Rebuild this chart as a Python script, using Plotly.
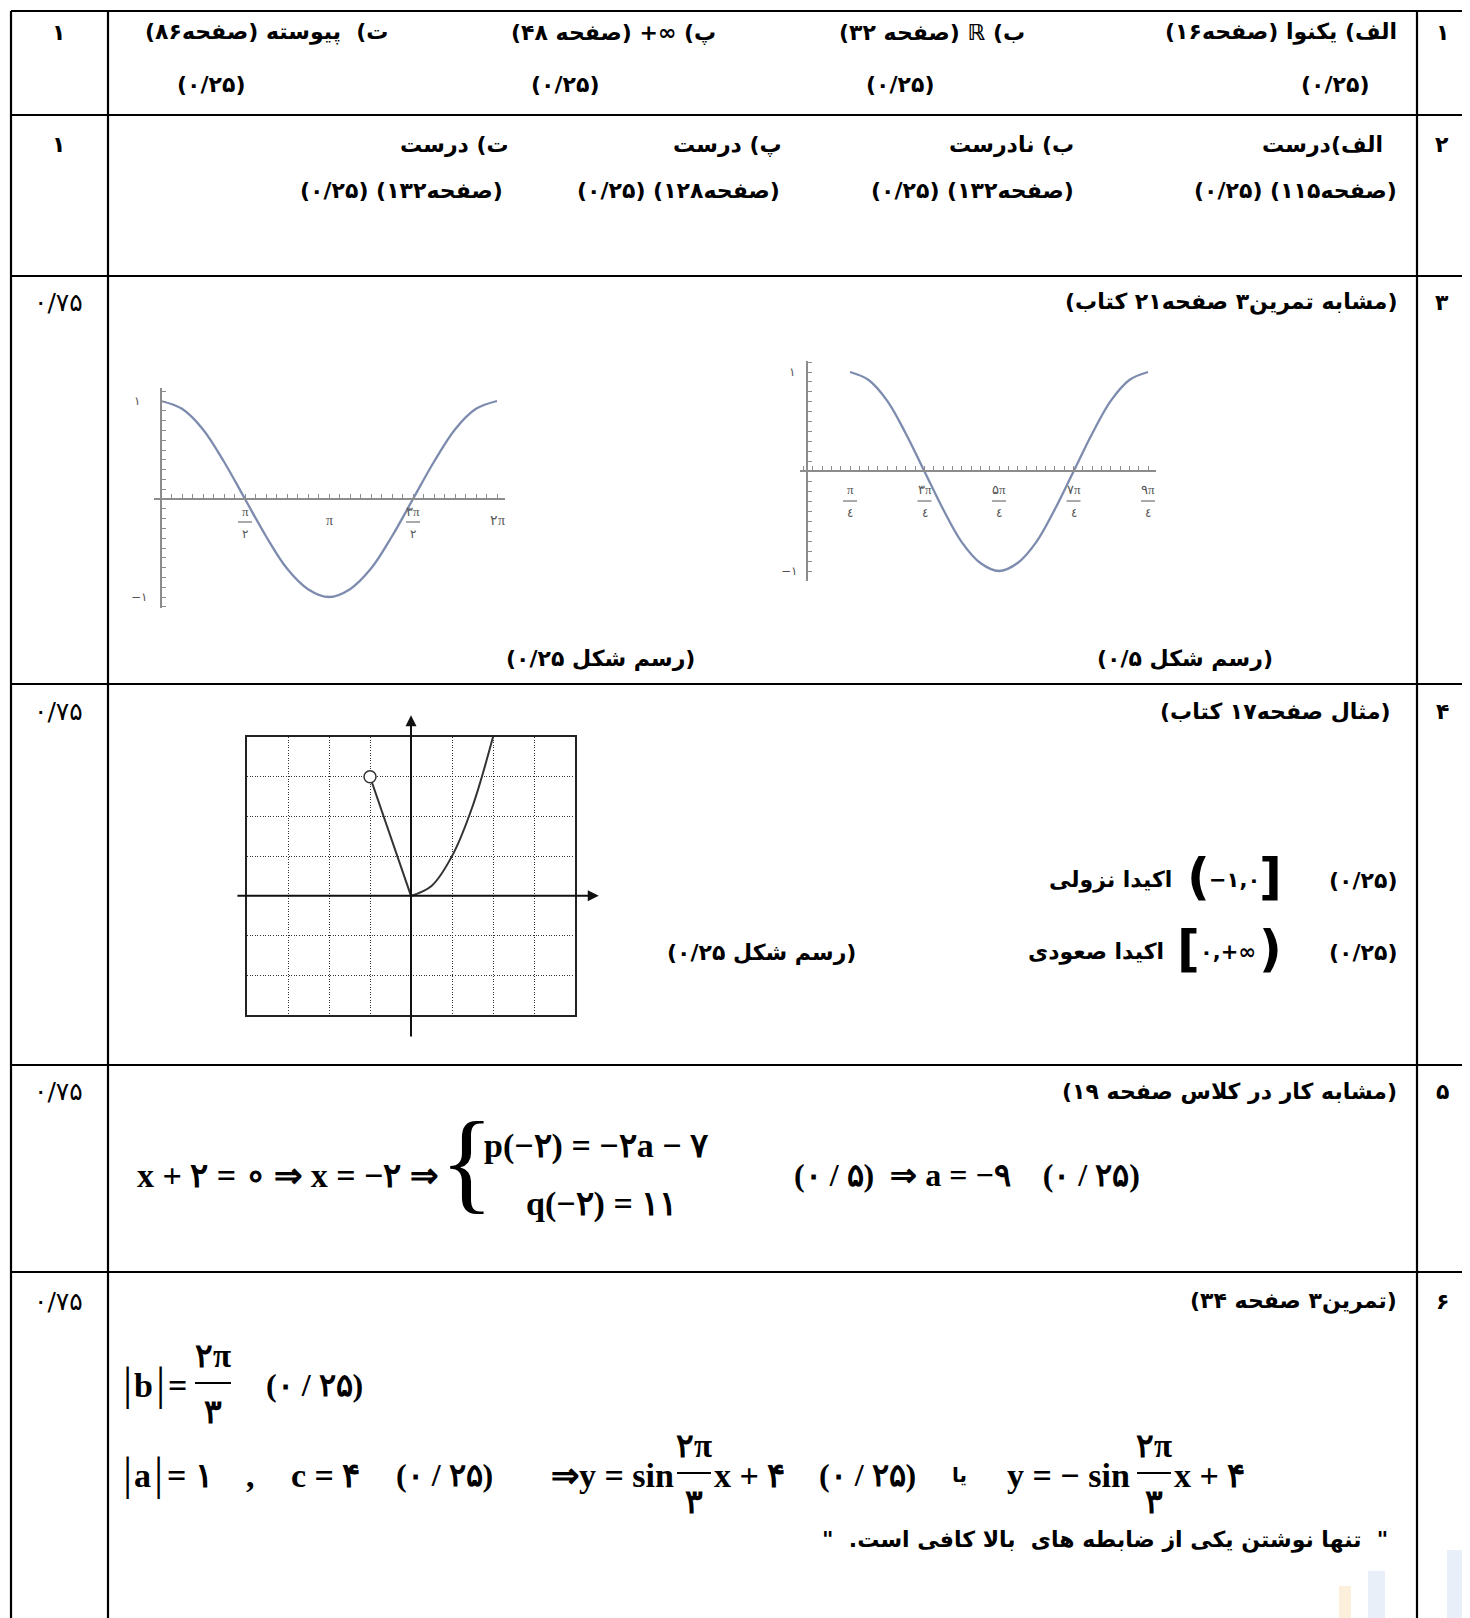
import plotly.graph_objects as go

W, H = 1470, 1618
FA = "DejaVu Sans"
MATH = "Liberation Serif"

# ---- data -------------------------------------------------------------
# row 3, left panel: y = cos x on [0, 2π]   (x given in units of π)
left_x = [0, 0.125, 0.25, 0.375, 0.5, 0.625, 0.75, 0.875, 1,
          1.125, 1.25, 1.375, 1.5, 1.625, 1.75, 1.875, 2]
left_y = [1, 0.92, 0.71, 0.38, 0, -0.38, -0.71, -0.92, -1,
          -0.92, -0.71, -0.38, 0, 0.38, 0.71, 0.92, 1]
left_ticks = [0.5, 1, 1.5, 2]
left_num = ["π", "π", "۳π", "۲π"]
left_den = ["۲", "", "۲", ""]

# row 3, right panel: shifted cosine on [π/4, 9π/4]
right_x = [0.25, 0.375, 0.5, 0.625, 0.75, 0.875, 1, 1.125, 1.25,
           1.375, 1.5, 1.625, 1.75, 1.875, 2, 2.125, 2.25]
right_y = [1, 0.92, 0.71, 0.38, 0, -0.38, -0.71, -0.92, -1,
           -0.92, -0.71, -0.38, 0, 0.38, 0.71, 0.92, 1]
right_ticks = [0.25, 0.75, 1.25, 1.75, 2.25]
right_num = ["π", "۳π", "۵π", "۷π", "۹π"]
right_den = ["٤", "٤", "٤", "٤", "٤"]

# row 4: piecewise graph on grid
seg_x = [-1, 0]
seg_y = [3, 0]
par_x = [0, 0.5, 1, 1.5, 2]
par_y = [0, 0.25, 1, 2.25, 4]
hole_x = [-1]
hole_y = [3]

# table
row_lines = [3, 107, 268, 676, 1057, 1264, 1614]
col_lines = [3, 100, 1409, 1462]
row_nums = ["۱", "۲", "۳", "۴", "۵", "۶"]
row_scores = ["۱", "۱", "۰/۷۵", "۰/۷۵", "۰/۷۵", "۰/۷۵"]
row_label_y = [24, 136, 294, 703, 1083, 1293]

# grid panel placement (pixels) and its axis ranges
G_LEFT, G_RIGHT, G_TOP, G_BOTTOM = 239, 567, 729, 1007
G_XR = [-4, 4]
G_YR = [-3, 4]


def rtl(s):
    return "\u202b" + s + "\u202c"


def xdom(a, b):
    return [a / W, b / W]


def ydom(top, bottom):
    return [1 - bottom / H, 1 - top / H]


def xfit(d0, p0, d1, p1, a, b):
    s = (p1 - p0) / (d1 - d0)
    return [d0 + (a - p0) / s, d0 + (b - p0) / s]


def yfit(v0, p0, v1, p1, top, bottom):
    s = (p1 - p0) / (v1 - v0)
    return [v0 + (bottom - p0) / s, v0 + (top - p0) / s]


def gx(v):
    return G_LEFT + (v - G_XR[0]) * (G_RIGHT - G_LEFT) / (G_XR[1] - G_XR[0])


def gy(v):
    return G_BOTTOM - (v - G_YR[0]) * (G_BOTTOM - G_TOP) / (G_YR[1] - G_YR[0])


annotations = []
shapes = []


def txt(x, y, s, size=22, anchor="right", family=FA, bold=True, xref="x", yref="y", color="black"):
    annotations.append(dict(x=x, y=y, xref=xref, yref=yref, text=s, showarrow=False,
                            xanchor=anchor, yanchor="middle",
                            font=dict(family=family, size=size, color=color,
                                      weight="bold" if bold else "normal")))


def hline(x0, x1, y, w=1.2, xref="x", yref="y", color="black"):
    shapes.append(dict(type="line", xref=xref, yref=yref, x0=x0, x1=x1, y0=y, y1=y,
                       line=dict(color=color, width=w)))


fig = go.Figure()

# ---- traces -----------------------------------------------------------
curve = dict(color="#7d8cae", width=2.3, shape="spline")
fig.add_trace(go.Scatter(x=left_x, y=left_y, xaxis="x2", yaxis="y2", mode="lines",
                         line=curve, hoverinfo="skip"))
fig.add_trace(go.Scatter(x=right_x, y=right_y, xaxis="x3", yaxis="y3", mode="lines",
                         line=curve, hoverinfo="skip"))
fig.add_trace(go.Scatter(x=seg_x, y=seg_y, xaxis="x4", yaxis="y4", mode="lines",
                         line=dict(color="#333", width=2), hoverinfo="skip"))
fig.add_trace(go.Scatter(x=par_x, y=par_y, xaxis="x4", yaxis="y4", mode="lines",
                         line=dict(color="#333", width=2, shape="spline"), hoverinfo="skip"))
fig.add_trace(go.Scatter(x=hole_x, y=hole_y, xaxis="x4", yaxis="y4", mode="markers",
                         marker=dict(symbol="circle", size=12, color="white",
                                     line=dict(color="#333", width=1.5)),
                         cliponaxis=False, hoverinfo="skip"))

# ---- table frame ------------------------------------------------------
for y in row_lines:
    shapes.append(dict(type="line", xref="x", yref="y", x0=col_lines[0], x1=col_lines[-1],
                       y0=y, y1=y, line=dict(color="black", width=2.2)))
for x in col_lines:
    shapes.append(dict(type="line", xref="x", yref="y", x0=x, x1=x,
                       y0=row_lines[0], y1=row_lines[-1], line=dict(color="black", width=2.2)))

for n, sc, y in zip(row_nums, row_scores, row_label_y):
    txt(1434, y, n, size=22, anchor="center")
    if sc == "۱":
        txt(50, y, sc, size=22, anchor="center")
    else:
        txt(50, y, sc, size=25, anchor="center", bold=False)

# faint logo in the corner
for (x0, x1, y0, y1, c) in [(1331, 1343, 1578, 1612, "#fcefdc"),
                            (1360, 1377, 1563, 1612, "#e8eff9"),
                            (1439, 1460, 1542, 1612, "#e8eff9")]:
    shapes.append(dict(type="rect", xref="x", yref="y", x0=x0, x1=x1, y0=y0, y1=y1,
                       fillcolor=c, line=dict(width=0), layer="below"))

# ---- row 1 ------------------------------------------------------------
txt(1391, 24, rtl("الف) یکنوا (صفحه۱۶)"))
txt(1019, 24, rtl("ب) ℝ (صفحه ۳۲)"))
txt(710, 24, rtl("پ) \u2066+∞\u2069 (صفحه ۴۸)"))
txt(382, 24, rtl("ت)  پیوسته (صفحه۸۶)"))
for cx in [1327, 892, 557, 203]:
    txt(cx, 76, rtl("(۰/۲۵)"), anchor="center")

# ---- row 2 ------------------------------------------------------------
for (rx1, s1, rx2, page) in [(1377, "الف)درست", 1391, "۱۱۵"),
                             (1068, "ب) نادرست", 1068, "۱۳۲"),
                             (776, "پ) درست", 774, "۱۲۸"),
                             (503, "ت) درست", 497, "۱۳۲")]:
    txt(rx1, 136, rtl(s1))
    txt(rx2, 182, rtl("(صفحه" + page + ") (۰/۲۵)"))

# ---- row 3 ------------------------------------------------------------
txt(1391, 294, rtl("(مشابه تمرین۳ صفحه۲۱ کتاب)"))
txt(689, 650, rtl("(رسم شکل ۰/۲۵)"))
txt(1267, 650, rtl("(رسم شکل ۰/۵)"))


def frac_labels(ticks, nums, dens, xref, y_num, y_bar, y_den, y_plain):
    for t, n, d in zip(ticks, nums, dens):
        if d:
            txt(t, y_num, n, size=13, anchor="center", bold=False, xref=xref, family=MATH,
                color="#555")
            txt(t, y_den, d, size=12, anchor="center", bold=False, xref=xref, color="#555")
            shapes.append(dict(type="line", xref=xref, yref="paper", xsizemode="pixel",
                               xanchor=t, x0=-7, x1=7, y0=1 - y_bar / H, y1=1 - y_bar / H,
                               line=dict(color="#555", width=1)))
        else:
            txt(t, y_plain, n, size=14, anchor="center", bold=False, xref=xref, family=MATH,
                color="#555")


frac_labels(left_ticks, left_num, left_den, "x2", 503, 514, 526, 512)
frac_labels(right_ticks, right_num, right_den, "x3", 481, 493, 505, 482)
txt(129, 1, "۱", size=12, anchor="center", bold=False, yref="y2", color="#555")
txt(131, -1, "−۱", size=12, anchor="center", bold=False, yref="y2", color="#555")
txt(784, 1, "۱", size=12, anchor="center", bold=False, yref="y3", color="#555")
txt(781, -1, "−۱", size=12, anchor="center", bold=False, yref="y3", color="#555")

# ---- row 4 ------------------------------------------------------------
txt(1385, 703, rtl("(مثال صفحه۱۷ کتاب)"))
txt(1391, 872, rtl("(۰/۲۵)"))
txt(1190, 869, "(", size=50, anchor="center")
txt(1226, 872, "−۱,۰", size=21, anchor="center")
txt(1262, 869, "]", size=50, anchor="center")
txt(1166, 872, rtl("اکیدا نزولی"))
txt(1391, 944, rtl("(۰/۲۵)"))
txt(1180, 941, "[", size=50, anchor="center")
txt(1220, 944, "۰,+∞", size=21, anchor="center")
txt(1262, 941, ")", size=50, anchor="center")
txt(1158, 944, rtl("اکیدا صعودی"))
txt(850, 944, rtl("(رسم شکل ۰/۲۵)"))

# axes with arrows for the grid graph (they run past the grid frame)
for (x, y, ax, ay) in [(gx(4.58), gy(0), gx(-4.27), gy(0)),
                       (gx(0), gy(4.55), gx(0), gy(-3.58))]:
    annotations.append(dict(x=x, y=y, ax=ax, ay=ay, xref="x", yref="y", axref="x",
                            ayref="y", text="", showarrow=True, arrowhead=2, arrowsize=1.1,
                            arrowwidth=2, arrowcolor="#111"))

# ---- row 5 ------------------------------------------------------------
txt(1391, 1083, rtl("(مشابه کار در کلاس صفحه ۱۹)"))
txt(127, 1167, "x + ۲ = ∘ ⇒ x = −۲ ⇒", size=34, anchor="left", family=MATH)
txt(459, 1153, "{", size=112, anchor="center", family=MATH, bold=False)
txt(474, 1138, "p(−۲) = −۲a − ۷", size=34, anchor="left", family=MATH)
txt(516, 1196, "q(−۲) = ۱۱", size=34, anchor="left", family=MATH)
txt(784, 1167, "(۰ / ۵)  ⇒ a = −۹    (۰ / ۲۵)", size=32, anchor="left", family=MATH)

# ---- row 6 ------------------------------------------------------------
txt(1391, 1293, rtl("(تمرین۳ صفحه ۳۴)"))


def abs_val(xl, xr, y, letter):
    txt(xl, y, "|", size=46, anchor="center", family=MATH, bold=False)
    txt((xl + xr) / 2, y + 2, letter, size=34, anchor="center", family=MATH)
    txt(xr, y, "|", size=46, anchor="center", family=MATH, bold=False)


def fraction(cx, y, half, num, den):
    hline(cx - half, cx + half, y, w=2)
    txt(cx, y - 27, num, size=33, anchor="center", family=MATH)
    txt(cx, y + 29, den, size=33, anchor="center", family=MATH)


abs_val(119, 152, 1375, "b")
txt(158, 1377, "=", size=34, anchor="left", family=MATH)
fraction(205, 1375, 18, "۲π", "۳")
txt(306, 1377, "(۰ / ۲۵)", size=32, anchor="center", family=MATH)

abs_val(119, 150, 1465, "a")
txt(157, 1467, "= ۱", size=34, anchor="left", family=MATH)
txt(242, 1467, ",", size=34, anchor="center", family=MATH)
txt(281, 1467, "c = ۴", size=34, anchor="left", family=MATH)
txt(436, 1467, "(۰ / ۲۵)", size=32, anchor="center", family=MATH)
txt(668, 1467, "⇒y = sin", size=34, anchor="right", family=MATH)
fraction(686, 1465, 17, "۲π", "۳")
txt(704, 1467, "x + ۴", size=34, anchor="left", family=MATH)
txt(859, 1467, "(۰ / ۲۵)", size=32, anchor="center", family=MATH)
txt(951, 1467, rtl("یا"), size=20, anchor="center")
txt(1124, 1467, "y = − sin", size=34, anchor="right", family=MATH)
fraction(1146, 1465, 17, "۲π", "۳")
txt(1164, 1467, "x + ۴", size=34, anchor="left", family=MATH)
txt(1382, 1532, rtl("\"  تنها نوشتن یکی از ضابطه های  بالا کافی است.  \""))

# ---- layout -----------------------------------------------------------
small_axis = dict(showgrid=False, zeroline=False, showticklabels=False, ticks="inside",
                  ticklen=4, tickwidth=1, tickcolor="#8c8c8c", showline=True,
                  linecolor="#8c8c8c", linewidth=1.6, fixedrange=True, anchor="free")

grid_axis = dict(showgrid=True, gridcolor="#333", griddash="1px,1.6px", gridwidth=1,
                 zeroline=False, showticklabels=False, ticks="", showline=True,
                 mirror=True, linecolor="#222", linewidth=1.6, dtick=1, tick0=0,
                 fixedrange=True)

fig.update_layout(
    width=W, height=H, margin=dict(l=0, r=0, t=0, b=0),
    paper_bgcolor="white", plot_bgcolor="rgba(0,0,0,0)", showlegend=False,
    xaxis=dict(domain=[0, 1], range=[0, W], visible=False, fixedrange=True),
    yaxis=dict(domain=[0, 1], range=[H, 0], visible=False, fixedrange=True),
    xaxis2=dict(small_axis, domain=xdom(146, 497), range=xfit(0, 153, 2, 489, 146, 497),
                position=1 - 491 / H, dtick=1 / 16, tick0=0),
    yaxis2=dict(small_axis, domain=ydom(380, 600), range=yfit(1, 393, -1, 589, 380, 600),
                position=153 / W, dtick=0.1, tick0=0),
    xaxis3=dict(small_axis, domain=xdom(792, 1148), range=xfit(0.25, 842, 2.25, 1140, 792, 1148),
                position=1 - 463 / H, dtick=1 / 16, tick0=0),
    yaxis3=dict(small_axis, domain=ydom(353, 573), range=yfit(1, 364, -1, 563, 353, 573),
                position=799 / W, dtick=0.1, tick0=0),
    xaxis4=dict(grid_axis, domain=xdom(G_LEFT, G_RIGHT), range=G_XR, anchor="y4"),
    yaxis4=dict(grid_axis, domain=ydom(G_TOP, G_BOTTOM), range=G_YR, anchor="x4"),
    annotations=annotations,
    shapes=shapes,
)

fig.write_html("out.html")
